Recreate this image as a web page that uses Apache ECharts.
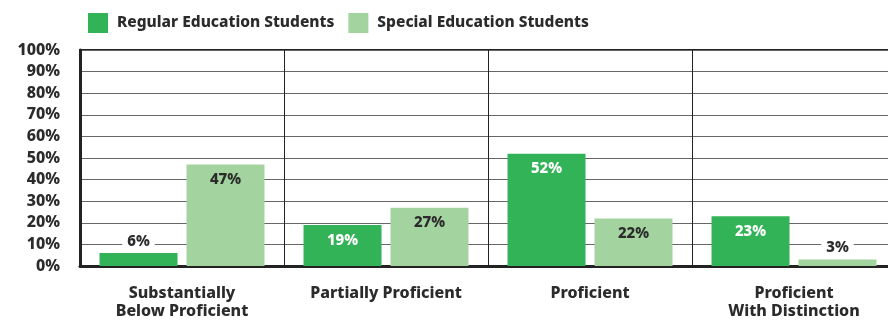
<!DOCTYPE html>
<html><head><meta charset="utf-8">
<script src="https://cdn.jsdelivr.net/npm/echarts@6/dist/echarts.min.js"></script>
<style>html,body{margin:0;padding:0;background:#fff;overflow:hidden}#c{width:896px;height:320px}</style>
</head><body><div id="c"></div>
<script>
const categories = ['Substantially\nBelow Proficient', 'Partially Proficient', 'Proficient', 'Proficient\nWith Distinction'];
const regularValues = [6, 19, 52, 23];
const specialValues = [47, 27, 22, 3];
const yTicks = [0,10,20,30,40,50,60,70,80,90,100];
const seriesNames = ['Regular Education Students', 'Special Education Students'];

const FONT = 'Noto Sans';
const W = 800;
const dark = '#2b2b2b';
function mk(vals, insideColor){
  return vals.map(v => v < 10 ? {value: v, label: {position: 'top', distance: 4, color: dark, backgroundColor: '#fff', padding: [0, 5]}} : {value: v, label: {position: 'insideTop', distance: 8, color: insideColor}});
}
const chart = echarts.init(document.getElementById('c'), null, {renderer: 'canvas'});
chart.setOption({
  animation: false,
  textStyle: {fontFamily: FONT},
  legend: {
    left: 83, top: 8, itemWidth: 20, itemHeight: 20, itemGap: 14,
    icon: 'rect',
    textStyle: {fontFamily: FONT, fontWeight: W, fontSize: 15.5, color: dark, padding: [0,0,0,4]},
    data: seriesNames
  },
  grid: {left: 80, top: 50, right: 0, height: 216, show: true, borderColor: '#222', borderWidth: 2, backgroundColor: 'transparent'},
  xAxis: {
    type: 'category', data: categories,
    axisLine: {lineStyle: {color: '#222', width: 3}},
    axisTick: {show: false},
    splitLine: {show: true, lineStyle: {color: '#222', width: 1}},
    axisLabel: {fontFamily: FONT, fontWeight: W, fontSize: 16, color: dark, margin: 18, lineHeight: 18, interval: 0}
  },
  yAxis: {
    type: 'value', min: yTicks[0], max: yTicks[yTicks.length-1], interval: 10,
    axisLine: {show: true, lineStyle: {color: '#222', width: 3}},
    axisTick: {show: false},
    splitLine: {lineStyle: {color: '#666', width: 1}},
    axisLabel: {formatter: '{value}%', fontFamily: FONT, fontWeight: W, fontSize: 16, color: dark, margin: 20}
  },
  series: [
    {name: seriesNames[0], type: 'bar', barWidth: 78, barGap: '11.5%', itemStyle: {color: '#33b357'},
     label: {show: true, formatter: '{c}%', fontFamily: FONT, fontWeight: W, fontSize: 15}, data: mk(regularValues, '#fff')},
    {name: seriesNames[1], type: 'bar', barWidth: 78, itemStyle: {color: '#a3d4a0'},
     label: {show: true, formatter: '{c}%', fontFamily: FONT, fontWeight: W, fontSize: 15}, data: mk(specialValues, dark)}
  ]
});
</script></body></html>
